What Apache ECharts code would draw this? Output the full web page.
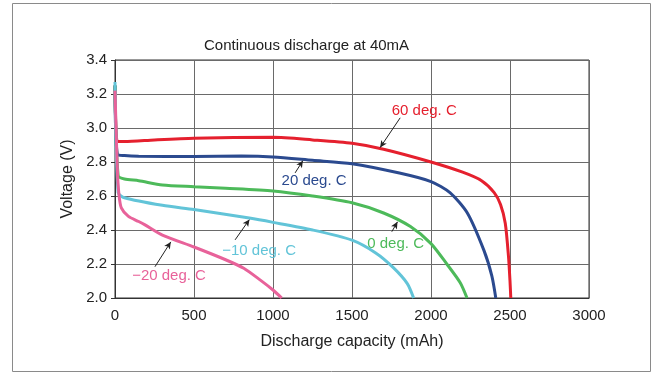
<!DOCTYPE html>
<html>
<head>
<meta charset="utf-8">
<script src="https://cdn.jsdelivr.net/npm/echarts@6/dist/echarts.min.js"></script>
<style>html,body{margin:0;padding:0;background:#fff;}#c{width:659px;height:382px;}</style>
</head>
<body>
<div id="c"></div>
<script>
// ---- data ----
const xTicks = [0, 500, 1000, 1500, 2000, 2500, 3000];
const yTicks = ['2.0', '2.2', '2.4', '2.6', '2.8', '3.0', '3.2', '3.4'];

const cap60 = [0, 15, 60, 250, 500, 1000, 1250, 1500, 1700, 2000, 2200, 2320, 2400, 2440, 2470, 2490, 2500, 2505];
const volt60 = [3.25, 2.92, 2.92, 2.93, 2.94, 2.945, 2.93, 2.91, 2.875, 2.80, 2.74, 2.69, 2.62, 2.55, 2.44, 2.25, 2.10, 2.0];

const cap20 = [0, 15, 60, 150, 500, 800, 1000, 1250, 1500, 1800, 2000, 2120, 2230, 2335, 2385, 2410];
const volt20 = [3.25, 2.845, 2.838, 2.834, 2.832, 2.835, 2.83, 2.81, 2.79, 2.735, 2.685, 2.62, 2.50, 2.28, 2.13, 2.0];

const cap0 = [0, 20, 60, 150, 300, 500, 700, 1000, 1250, 1500, 1700, 1870, 2000, 2100, 2185, 2228];
const volt0 = [3.25, 2.72, 2.70, 2.69, 2.665, 2.655, 2.646, 2.63, 2.60, 2.56, 2.50, 2.42, 2.32, 2.20, 2.09, 2.0];

const capM10 = [0, 20, 60, 300, 500, 850, 1000, 1250, 1500, 1650, 1760, 1850, 1890];
const voltM10 = [3.27, 2.62, 2.59, 2.545, 2.52, 2.47, 2.445, 2.40, 2.34, 2.265, 2.18, 2.085, 2.0];

const capM20 = [0, 15, 25, 40, 85, 150, 190, 300, 500, 700, 815, 920, 1000, 1055];
const voltM20 = [3.22, 2.75, 2.61, 2.53, 2.48, 2.45, 2.43, 2.37, 2.30, 2.225, 2.175, 2.105, 2.047, 2.0];

const seriesNames = ['60 deg. C', '20 deg. C', '0 deg. C', '\u221210 deg. C', '\u221220 deg. C'];
const seriesColors = ['#e5202e', '#2b4a8f', '#4dba5a', '#62c4d8', '#e8629a'];
// annotation: text position and arrow [start, tip] in data units
const labelPos = [[1957, 3.10], [1260, 2.69], [1776, 2.318], [912, 2.277], [342, 2.13]];
const arrowFrom = [[1805, 3.06], [1140, 2.736], [1752, 2.39], [760, 2.342], [253, 2.184]];
const arrowTo = [[1678, 2.885], [1189, 2.808], [1788, 2.448], [851, 2.462], [353, 2.33]];

const caps = [cap60, cap20, cap0, capM10, capM20];
const volts = [volt60, volt20, volt0, voltM10, voltM20];

const FONT = '"Liberation Sans", Arial, Helvetica, sans-serif';

const series = caps.map((c, i) => ({
  name: seriesNames[i],
  type: 'line',
  data: c.map((x, k) => [x, volts[i][k]]),
  showSymbol: false,
  smooth: 0.25,
  z: 3 + i,
  lineStyle: { color: seriesColors[i], width: 3 },
  itemStyle: { color: seriesColors[i] },
  markLine: {
    silent: true,
    symbol: ['none', 'arrow'],
    symbolSize: [5, 7],
    lineStyle: { color: '#222', width: 1, type: 'solid' },
    label: { show: false },
    data: [[{ coord: arrowFrom[i] }, { coord: arrowTo[i] }]]
  },
  markPoint: {
    silent: true,
    symbol: 'circle',
    symbolSize: 1,
    itemStyle: { color: 'rgba(0,0,0,0)' },
    label: {
      show: true, position: 'inside', formatter: seriesNames[i],
      color: seriesColors[i], fontSize: 15, fontFamily: FONT
    },
    data: [{ coord: labelPos[i] }]
  }
}));

const chart = echarts.init(document.getElementById('c'), null, { renderer: 'canvas' });
chart.setOption({
  backgroundColor: '#fff',
  animation: false,
  title: {
    text: 'Continuous discharge at 40mA',
    left: 199, top: 33,
    textStyle: { fontSize: 15, fontWeight: 'normal', color: '#222', fontFamily: FONT }
  },
  graphic: [{
    type: 'rect',
    shape: { x: 12.5, y: 3.5, width: 638, height: 368 },
    style: { fill: 'none', stroke: '#8a8a8a', lineWidth: 1 },
    silent: true
  }],
  grid: { left: 115, top: 60, right: 70, bottom: 84, show: true, borderColor: '#333', borderWidth: 1 },
  xAxis: {
    type: 'value', min: xTicks[0], max: xTicks[xTicks.length - 1], interval: 500,
    name: 'Discharge capacity (mAh)', nameLocation: 'middle', nameGap: 36,
    nameTextStyle: { fontSize: 16, color: '#222', fontFamily: FONT },
    axisLine: { show: true, lineStyle: { color: '#333' } },
    axisTick: { show: false },
    axisLabel: { fontSize: 15, color: '#222', margin: 10, fontFamily: FONT, formatter: v => String(v) },
    splitLine: { show: true, lineStyle: { color: '#6a6a6a', width: 1 } }
  },
  yAxis: {
    type: 'value', min: 2.0, max: 3.4, interval: 0.2,
    name: 'Voltage (V)', nameLocation: 'middle', nameGap: 37,
    nameTextStyle: { fontSize: 16, color: '#222', fontFamily: FONT },
    axisLine: { show: true, lineStyle: { color: '#333' } },
    axisTick: { show: true, length: 4, lineStyle: { color: '#333' } },
    axisLabel: {
      fontSize: 15, color: '#222', margin: 8, fontFamily: FONT,
      formatter: v => yTicks[Math.round((v - 2.0) / 0.2)] || v.toFixed(1)
    },
    splitLine: { show: true, lineStyle: { color: '#6a6a6a', width: 1 } }
  },
  series: series
});
</script>
</body>
</html>
